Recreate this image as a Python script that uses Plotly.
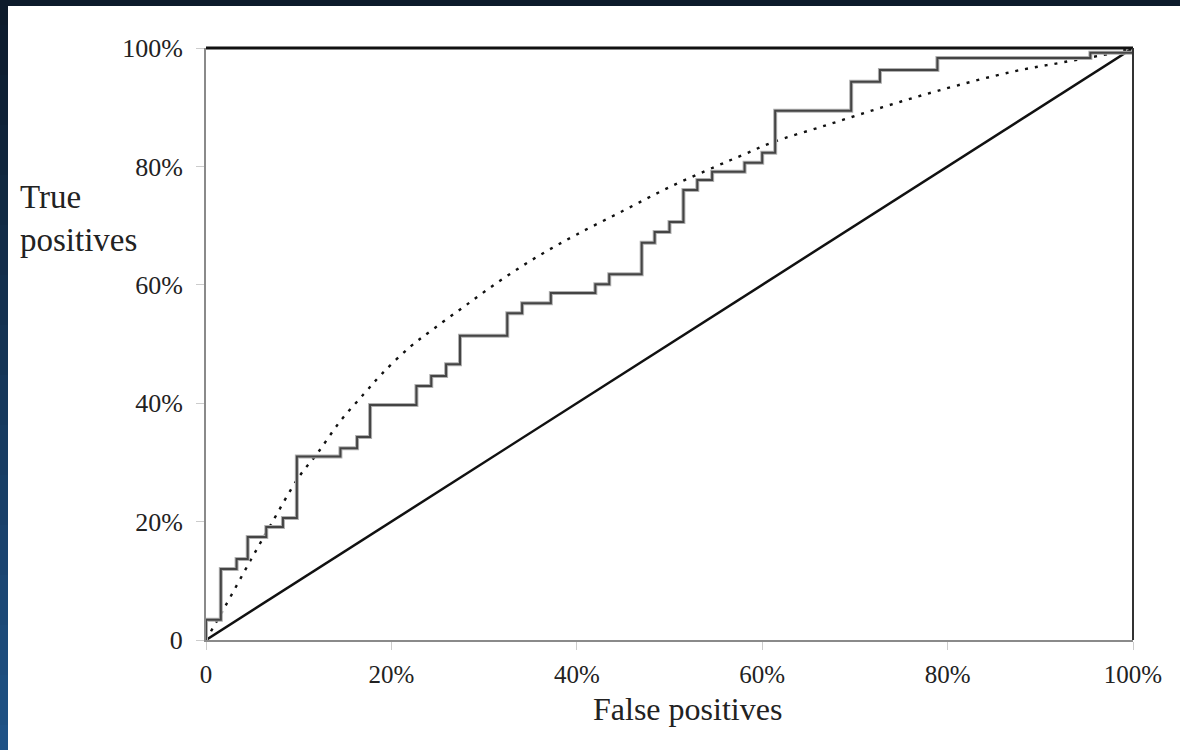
import plotly.graph_objects as go

# ROC step curve: at each false-positive value the true-positive rate rises to the given value
step_fp = [0, 0, 1.6, 3.3, 4.5, 6.5, 8.3, 9.8, 14.5, 16.3, 17.7, 22.7, 24.3, 25.9, 27.4,
           32.5, 34.1, 37.2, 42.0, 43.5, 47.0, 48.4, 50.0, 51.5, 53.0, 54.6, 58.1, 60.0,
           61.4, 69.6, 72.7, 78.9, 95.4, 100]
step_tp = [0, 3.4, 12.0, 13.7, 17.4, 19.1, 20.6, 31.0, 32.4, 34.3, 39.7, 42.9, 44.6, 46.6,
           51.4, 55.2, 56.9, 58.6, 60.1, 61.8, 67.1, 68.9, 70.6, 76.0, 77.7, 79.1, 80.6,
           82.3, 89.4, 94.3, 96.3, 98.3, 99.2, 100]

# Smooth fitted curve (dotted)
fit_fp = [0, 2, 5, 7, 10, 12, 14.5, 17, 19, 22, 24.5, 28, 32, 36, 40, 45, 50, 55, 58, 61,
          67, 73, 79, 87, 92.5, 98, 100]
fit_tp = [0, 5.5, 14, 19.5, 27.5, 31.5, 37, 41.5, 45, 49.5, 52.5, 56.5, 61, 65, 68.5, 72.5,
          76.5, 80, 82, 84, 87, 90, 92.8, 96, 97.6, 99.2, 100]

# Chance diagonal
diag_fp = [0, 100]
diag_tp = [0, 100]

tick_vals = [0, 20, 40, 60, 80, 100]
tick_text = ["0", "20%", "40%", "60%", "80%", "100%"]

W, H = 1180, 750
L, R, T, B = 206, 47, 48, 110
PW, PH = W - L - R, H - T - B


def px_x(p):
    return (p - L) / PW


def px_y(p):
    return (H - B - p) / PH


FONT = "Liberation Serif, Times New Roman, serif"

fig = go.Figure()

fig.add_trace(go.Scatter(x=diag_fp, y=diag_tp, mode="lines",
                         line=dict(color="#111111", width=2.5), hoverinfo="skip"))
fig.add_trace(go.Scatter(x=fit_fp, y=fit_tp, mode="lines", line_shape="spline",
                         line=dict(color="#111111", width=2.4, dash="3px,7px"), hoverinfo="skip"))
fig.add_trace(go.Scatter(x=step_fp, y=step_tp, mode="lines", line_shape="hv",
                         line=dict(color="#b0b0b0", width=4), hoverinfo="skip"))
fig.add_trace(go.Scatter(x=step_fp, y=step_tp, mode="lines", line_shape="hv",
                         line=dict(color="#444444", width=2), hoverinfo="skip"))

shapes = []
# dark blue gradient frame (dark navy at top -> blue at bottom)
top_c = (13, 27, 43)
bot_c = (31, 82, 134)
n = 30
for i in range(n):
    t = i / (n - 1)
    c = tuple(int(top_c[k] + (bot_c[k] - top_c[k]) * t) for k in range(3))
    ya = i * H / n
    yb = (i + 1) * H / n + 1
    shapes.append(dict(type="rect", xref="paper", yref="paper",
                       x0=px_x(0), x1=px_x(W), y0=px_y(ya), y1=px_y(yb),
                       fillcolor="rgb(%d,%d,%d)" % c, line=dict(width=0), layer="below"))
# white page
shapes.append(dict(type="rect", xref="paper", yref="paper",
                   x0=px_x(8), x1=px_x(W + 5), y0=px_y(6), y1=px_y(H + 5),
                   fillcolor="white", line=dict(width=0), layer="below"))
# top and right borders
shapes.append(dict(type="line", xref="paper", yref="paper", x0=0, x1=1, y0=1, y1=1,
                   line=dict(color="#111111", width=3)))
shapes.append(dict(type="line", xref="paper", yref="paper", x0=1, x1=1, y0=0, y1=1,
                   line=dict(color="#333333", width=2)))

fig.update_layout(
    width=W, height=H,
    margin=dict(l=L, r=R, t=T, b=B),
    paper_bgcolor="rgb(13,27,43)",
    plot_bgcolor="rgba(0,0,0,0)",
    showlegend=False,
    shapes=shapes,
    font=dict(family=FONT, color="#222222"),
    annotations=[
        dict(text="True<br>positives", xref="paper", yref="paper", x=px_x(18), y=px_y(219),
             xanchor="left", yanchor="middle", align="left", showarrow=False,
             font=dict(family=FONT, size=33, color="#222222")),
        dict(text="False positives", xref="paper", yref="paper", x=px_x(687), y=px_y(709),
             xanchor="center", yanchor="middle", showarrow=False,
             font=dict(family=FONT, size=32, color="#222222")),
    ],
)

fig.update_xaxes(range=[0, 100], tickvals=tick_vals, ticktext=tick_text,
                 showgrid=False, zeroline=False, showline=True, linecolor="#8a8a8a", linewidth=2,
                 ticks="outside", ticklen=8, tickcolor="#cccccc", tickwidth=1,
                 ticklabelstandoff=3,
                 tickfont=dict(family=FONT, size=25, color="#222222"))
fig.update_yaxes(range=[0, 100], tickvals=tick_vals, ticktext=tick_text,
                 showgrid=False, zeroline=False, showline=True, linecolor="#8a8a8a", linewidth=2,
                 ticks="outside", ticklen=8, tickcolor="#cccccc", tickwidth=1,
                 ticklabelstandoff=8,
                 tickfont=dict(family=FONT, size=26, color="#222222"))

fig.write_html(
    "out.html",
    config={"displayModeBar": False},
    post_script="document.body.style.margin='0';document.body.style.background='rgb(13,27,43)';",
)
